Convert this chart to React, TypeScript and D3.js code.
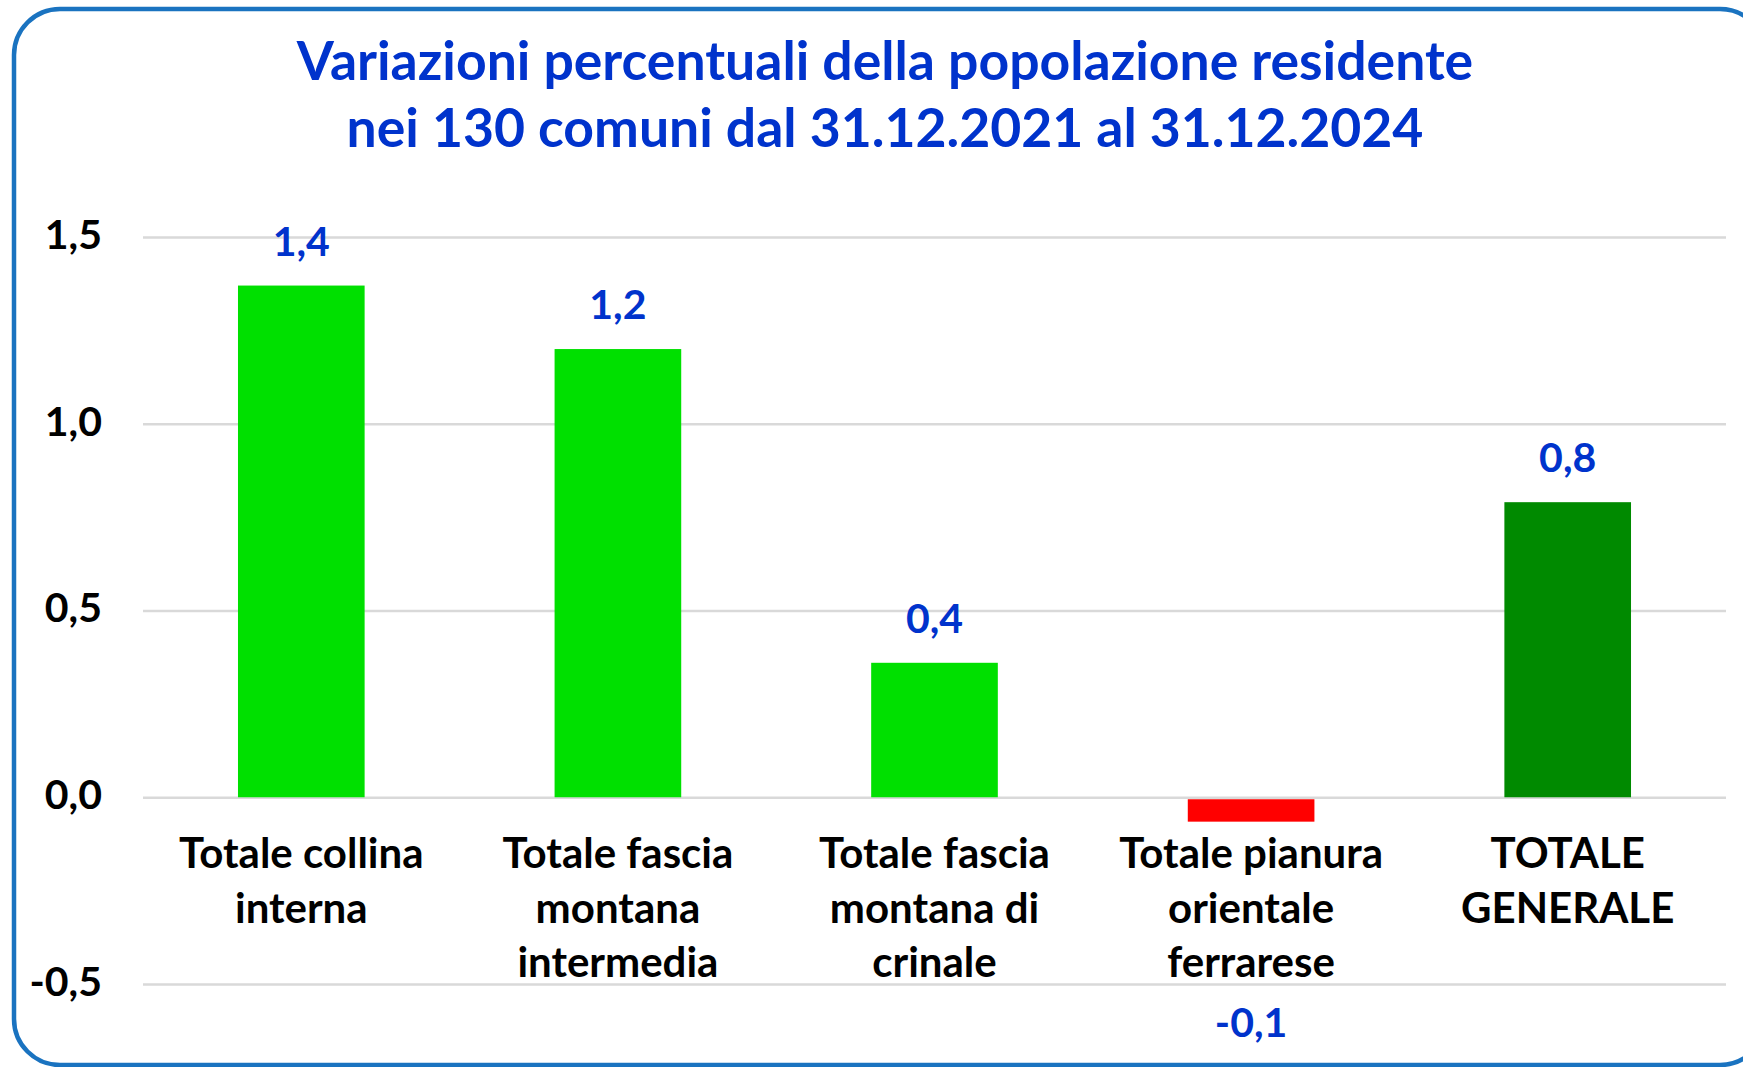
import React, { useEffect, useRef } from 'react';
import * as d3 from 'd3';

// chart data
const categories = [
  ['Totale collina', 'interna'],
  ['Totale fascia', 'montana', 'intermedia'],
  ['Totale fascia', 'montana di', 'crinale'],
  ['Totale pianura', 'orientale', 'ferrarese'],
  ['TOTALE', 'GENERALE'],
];
const values = [1.37, 1.2, 0.36, -0.06, 0.79];
const yTicks = [-0.5, 0, 0.5, 1.0, 1.5];
const titleLines = [
  'Variazioni percentuali della popolazione residente',
  'nei 130 comuni dal 31.12.2021 al 31.12.2024',
];

const FONT = "Lato, 'Open Sans', sans-serif";
const BLUE = '#0033cc';

const itLocale = d3.formatLocale({ decimal: ',', thousands: '.', grouping: [3], currency: ['', '€'], minus: '-' });
const fmt = itLocale.format('.1f');

const App = () => {
  const ref = useRef<SVGSVGElement>(null);

  useEffect(() => {
    const svg = d3.select(ref.current);
    svg.selectAll('*').remove();

    // frame
    svg.append('rect')
      .attr('x', 14).attr('y', 9)
      .attr('width', 1752).attr('height', 1056)
      .attr('rx', 46)
      .attr('fill', '#fff')
      .attr('stroke', '#1a73c0')
      .attr('stroke-width', 4.5);

    const left = 143, right = 1726;
    const keys = categories.map(c => c.join(' '));

    const x = d3.scaleBand()
      .domain(keys)
      .range([left, right])
      .paddingInner(0.6)
      .paddingOuter(0.3);

    const y = d3.scaleLinear()
      .domain([-0.5, 1.5])
      .range([984, 237]);

    // gridlines + y labels
    const axis = svg.append('g')
      .attr('transform', `translate(${left},0)`)
      .call(d3.axisLeft(y)
        .tickValues(yTicks)
        .tickSize(-(right - left))
        .tickPadding(41)
        .tickFormat(d => fmt(d as number)));
    axis.select('.domain').remove();
    axis.selectAll('line').attr('stroke', '#d9d9d9').attr('stroke-width', 2.5);
    axis.selectAll('text')
      .attr('dy', '0.28em')
      .attr('fill', '#000')
      .style('font-family', FONT)
      .style('font-weight', 700)
      .style('font-size', '41px');

    // bars
    svg.selectAll('.bar')
      .data(values)
      .enter()
      .append('rect')
        .attr('class', 'bar')
        .attr('x', (d, i) => x(keys[i])!)
        .attr('y', d => d >= 0 ? y(d) : y(0) + 2)
        .attr('width', x.bandwidth())
        .attr('height', d => d >= 0 ? y(0) - y(d) : y(d) - y(0))
        .attr('fill', (d, i) => d < 0 ? '#ff0000' : (i === values.length - 1 ? '#008a00' : '#00e000'));

    // value labels
    svg.selectAll('.label')
      .data(values)
      .enter()
      .append('text')
        .attr('class', 'label')
        .attr('x', (d, i) => x(keys[i])! + x.bandwidth() / 2)
        .attr('y', d => d >= 0 ? y(d) - 30 : y(-0.5) + 53)
        .attr('text-anchor', 'middle')
        .attr('fill', BLUE)
        .style('font-family', FONT)
        .style('font-weight', 700)
        .style('font-size', '41px')
        .text(d => fmt(d));

    // category labels
    const cat = svg.selectAll('.cat')
      .data(categories)
      .enter()
      .append('text')
        .attr('class', 'cat')
        .attr('text-anchor', 'middle')
        .attr('fill', '#000')
        .style('font-family', FONT)
        .style('font-weight', 700)
        .style('font-size', '42px');
    cat.selectAll('tspan')
      .data((d, i) => d.map(line => ({ line, i })))
      .enter()
      .append('tspan')
        .attr('x', d => x(keys[d.i])! + x.bandwidth() / 2)
        .attr('y', (d, j) => 868 + j * 54.5)
        .text(d => d.line);

    // title
    svg.append('g')
      .selectAll('text')
      .data(titleLines)
      .enter()
      .append('text')
        .attr('x', 885)
        .attr('y', (d, i) => 80 + i * 67)
        .attr('text-anchor', 'middle')
        .attr('fill', BLUE)
        .style('font-family', FONT)
        .style('font-weight', 700)
        .style('font-size', '53.5px')
        .text(d => d);
  }, []);

  return (
    <svg
      ref={ref}
      width={1743}
      height={1067}
      style={{ position: 'absolute', left: 0, top: 0, display: 'block', background: '#fff' }}
    />
  );
};

export default App;
